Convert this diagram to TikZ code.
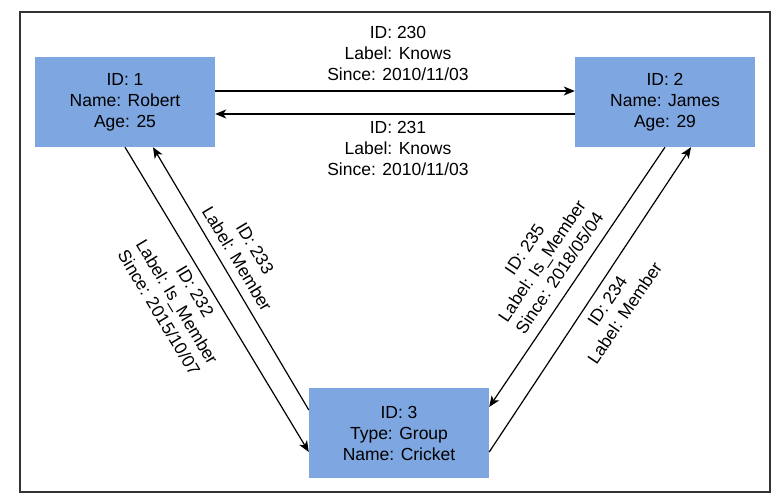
\documentclass[tikz,border=0pt]{standalone}
\usepackage{fontspec}
\setmainfont{Liberation Sans}
\usetikzlibrary{arrows.meta}
\definecolor{boxblue}{HTML}{7EA6E0}
\definecolor{framegray}{HTML}{333333}
\tikzset{
  entity/.style={fill=boxblue, draw=none, minimum width=180pt, minimum height=90pt,
    inner sep=0pt, align=center, font=\fontsize{17.5}{21}\selectfont},
  lbl/.style={align=center, inner sep=0pt, font=\fontsize{17.5}{21}\selectfont},
  rel/.style={line width=1.2pt, -{Stealth[length=11pt,width=9pt,inset=3pt]}}
}
\begin{document}
\begin{tikzpicture}[x=1pt, y=-1pt]
  \useasboundingbox (0,0) rectangle (783,503);
  % outer frame
  \draw[framegray, line width=2pt] (20,12) rectangle (770,492);

  % vertices
  \node[entity] (n1) at (125,102) {ID: 1\\Name: Robert\\Age: 25};
  \node[entity] (n2) at (665,102) {ID: 2\\Name: James\\Age: 29};
  \node[entity] (n3) at (399,433) {ID: 3\\Type: Group\\Name: Cricket};

  % edges between the two people
  \draw[rel] ([yshift=11pt]n1.east) -- ([yshift=11pt]n2.west);
  \draw[rel] ([yshift=-12pt]n2.east -| n2.west) -- ([yshift=-12pt]n1.east);

  % edges to the group
  \draw[rel] (n1.south) -- ([yshift=-19pt]n3.west);
  \draw[rel] ([yshift=23pt]n3.west) -- ([xshift=28pt]n1.south);
  \draw[rel] (n2.south) -- ([yshift=26pt]n3.east);
  \draw[rel] ([yshift=-19pt]n3.east) -- ([xshift=26pt]n2.south);

  % edge labels
  \node[lbl] (l230) at (398,53) {ID: 230\\Label: Knows\\Since: 2010/11/03};
  \node[lbl] (l231) at (398,148) {ID: 231\\Label: Knows\\Since: 2010/11/03};
  \node[lbl, rotate=-59] (l232) at (177,302) {ID: 232\\Label: Is\_Member\\Since: 2015/10/07};
  \node[lbl, rotate=-59] (l233) at (246,253.5) {ID: 233\\Label: Member};
  \node[lbl, rotate=56] (l235) at (542,261) {ID: 235\\Label: Is\_Member\\Since: 2018/05/04};
  \node[lbl, rotate=56] (l234) at (616,307) {ID: 234\\Label: Member};
\end{tikzpicture}
\end{document}
